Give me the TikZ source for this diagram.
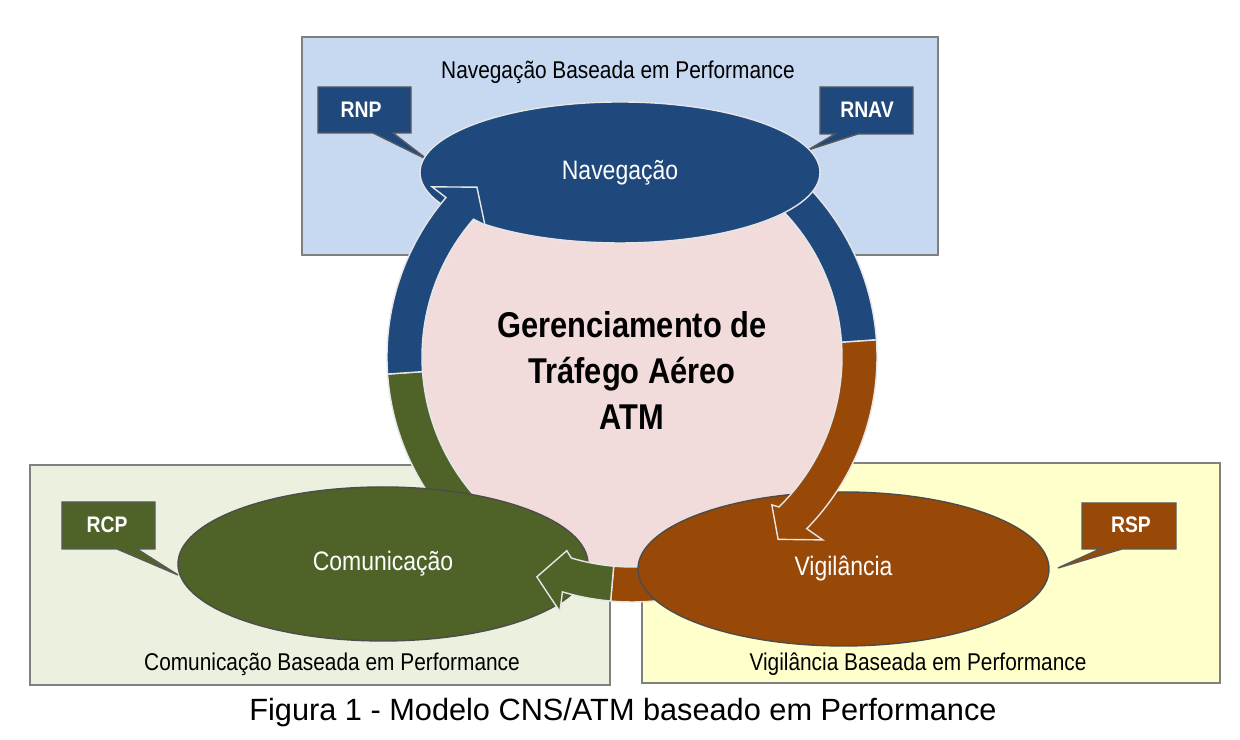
\documentclass[tikz,border=0pt]{standalone}
\usepackage{fontspec}
\setmainfont{Liberation Sans}
\newfontfamily\narrowfont[FakeStretch=0.86]{Liberation Sans}
\usetikzlibrary{positioning}
\usetikzlibrary{shapes.geometric}

\definecolor{navbg}{HTML}{C6D9F1}
\definecolor{combg}{HTML}{EBF1DE}
\definecolor{vigbg}{HTML}{FFFFCC}
\definecolor{atmpink}{HTML}{F2DCDB}
\definecolor{navblue}{HTML}{1F497D}
\definecolor{comgreen}{HTML}{4F6228}
\definecolor{vigbrown}{HTML}{984807}
\definecolor{rimline}{HTML}{E6E6E6}

\tikzset{
panel/.style={draw=gray, line width=0.6pt},
paneltitle/.style={anchor=base, inner sep=0pt, font=\narrowfont\fontsize{6.9}{8}\selectfont},
pillar/.style={ellipse, inner sep=0pt, text=white, font=\narrowfont\fontsize{7.6}{9}\selectfont},
tag/.style={anchor=base, inner sep=0pt, text=white, font=\narrowfont\bfseries\fontsize{6.4}{7}\selectfont},
tagbox/.style={draw=black!65, line width=0.4pt},
band/.style={draw=rimline, line width=0.4pt},
}

\begin{document}
\begin{tikzpicture}
\path[use as bounding box, fill=white] (0,0) rectangle (12.40,7.40);

% panels
\draw[panel, fill=navbg] (3.02,4.85) rectangle (9.38,7.03);
\draw[panel, fill=combg] (0.30,0.55) rectangle (6.10,2.75);
\draw[panel, fill=vigbg] (6.42,0.57) rectangle (12.20,2.77);
\node[paneltitle] (navtitle) at (6.18,6.61) {Navegação Baseada em Performance};
\node[paneltitle] (comtitle) at (3.32,0.69) {Comunicação Baseada em Performance};
\node[paneltitle] (vigtitle) at (9.18,0.69) {Vigilância Baseada em Performance};

% callouts
\draw[tagbox, fill=navblue] (3.18,6.53) -- (4.11,6.53) -- (4.11,6.07) -- (3.93,6.07) -- (4.28,5.80) -- (3.73,6.07) -- (3.18,6.07) -- cycle;
\draw[tagbox, fill=navblue] (8.20,6.53) -- (9.13,6.53) -- (9.13,6.06) -- (8.58,6.06) -- (8.08,5.90) -- (8.35,6.06) -- (8.20,6.06) -- cycle;
\draw[tagbox, fill=comgreen] (0.62,2.38) -- (1.55,2.38) -- (1.55,1.91) -- (1.37,1.91) -- (1.78,1.65) -- (1.17,1.91) -- (0.62,1.91) -- cycle;
\draw[tagbox, fill=vigbrown] (10.82,2.37) -- (11.76,2.37) -- (11.76,1.91) -- (11.22,1.91) -- (10.58,1.72) -- (11.00,1.91) -- (10.82,1.91) -- cycle;
\node[tag] (rnp) at (3.61,6.22) {RNP};
\node[tag] (rnav) at (8.67,6.22) {RNAV};
\node[tag] (rcp) at (1.07,2.07) {RCP};
\node[tag] (rsp) at (11.31,2.07) {RSP};

% ATM disc
\node[circle, minimum size=4.2cm, inner sep=0pt, fill=atmpink, draw=rimline, line width=0.6pt] (atm) at (6.32,3.83) {};

% ring tails
\begin{scope}[shift={(atm.center)}]
\filldraw[band, fill=comgreen] (235:2.45) arc[start angle=235, end angle=184, radius=2.45] -- (184:2.10) arc[start angle=184, end angle=235, radius=2.10] -- cycle;
\filldraw[band, fill=navblue] (60:2.45) arc[start angle=60, end angle=4, radius=2.45] -- (4:2.10) arc[start angle=4, end angle=60, radius=2.10] -- cycle;
\filldraw[band, fill=vigbrown] (290:2.45) arc[start angle=290, end angle=265, radius=2.45] -- (265:2.10) arc[start angle=265, end angle=290, radius=2.10] -- cycle;
\end{scope}

% pillars
\node[pillar, minimum width=4.00cm, minimum height=1.41cm, fill=navblue, draw=rimline] (nav) at (6.20,5.675) {Navegação};
\node[pillar, minimum width=4.10cm, minimum height=1.54cm, fill=comgreen, draw=black!70] (com) at (3.83,1.76) {Comunicação};
\node[pillar, minimum width=4.11cm, minimum height=1.54cm, fill=vigbrown, draw=black!70] (vig) at (8.435,1.71) {Vigilância};

% ring heads
\begin{scope}[shift={(atm.center)}]
\filldraw[band, fill=navblue] (184:2.45) arc[start angle=184, end angle=139.4, radius=2.45] -- (139.6:2.625) -- (132.4:2.30) -- (138.1:1.976) -- (139:2.10) arc[start angle=139, end angle=184, radius=2.10] -- cycle;
\filldraw[band, fill=vigbrown] (4:2.45) arc[start angle=4, end angle=-44.5, radius=2.45] -- (-43.8:2.643) -- (-51.3:2.337) -- (-46.6:2.035) -- (-45.6:2.10) arc[start angle=-45.6, end angle=4, radius=2.10] -- cycle;
\filldraw[band, fill=comgreen] (265:2.45) arc[start angle=265, end angle=253.5, radius=2.45] -- (254.2:2.647) -- (246.6:2.396) -- (251.4:2.044) -- (253.2:2.10) arc[start angle=253.2, end angle=265, radius=2.10] -- cycle;
\end{scope}

% texts
\node[align=center, inner sep=0pt, font=\narrowfont\bfseries\fontsize{10.2}{13.2}\selectfont] (atmtext) at (6.32,3.695) {Gerenciamento de\\Tráfego Aéreo\\ATM};
\node[anchor=base, inner sep=0pt, font=\fontsize{8.74}{10}\selectfont] (caption) at (6.23,0.19) {Figura 1 - Modelo CNS/ATM baseado em Performance};
\end{tikzpicture}
\end{document}
